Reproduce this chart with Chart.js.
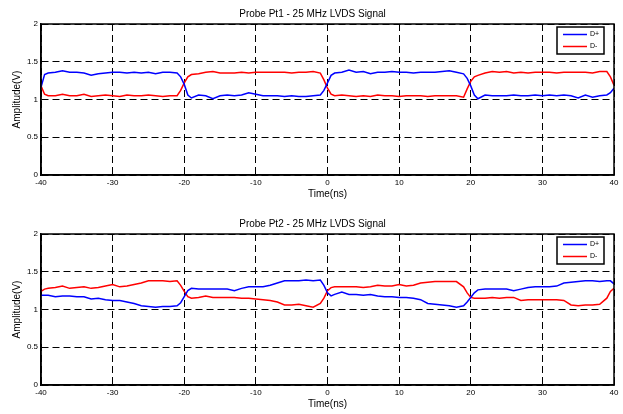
<!DOCTYPE html>
<html>
<head>
<meta charset="utf-8">
<script src="https://cdn.jsdelivr.net/npm/chart.js@4.4.0/dist/chart.umd.min.js"></script>
<style>
body { margin: 0; background: #fff; }
#wrap { position: relative; width: 623px; height: 414px; }
.pane { position: absolute; left: 0; width: 623px; height: 204px; }
</style>
</head>
<body>
<div id="wrap">
  <div class="pane" style="top:0px"><canvas id="pt1" width="623" height="204"></canvas></div>
  <div class="pane" style="top:210px"><canvas id="pt2" width="623" height="204"></canvas></div>
</div>
<script>
// sample times (ns), half steps around the edges
var timeNs = [
  -40, -39.5, -39, -38, -37, -36, -35, -34, -33, -32, -31, -30, -29, -28, -27, -26, -25, -24, -23, -22, -21,
  -20.5, -20, -19.5,
  -19, -18, -17, -16, -15, -14, -13, -12, -11, -10, -9, -8, -7, -6, -5, -4, -3, -2, -1,
  -0.5, 0, 0.5,
  1, 2, 3, 4, 5, 6, 7, 8, 9, 10, 11, 12, 13, 14, 15, 16, 17, 18, 19,
  19.5, 20, 20.5,
  21, 22, 23, 24, 25, 26, 27, 28, 29, 30, 31, 32, 33, 34, 35, 36, 37, 38, 39,
  39.5, 40
];

// probe Pt1 (V)
var pt1Plus = [
  1.16, 1.33, 1.35, 1.36, 1.38, 1.36, 1.36, 1.35, 1.32, 1.34, 1.35, 1.36, 1.36, 1.35, 1.36, 1.35, 1.36, 1.34, 1.36, 1.36, 1.35,
  1.30, 1.20, 1.06,
  1.02, 1.06, 1.05, 1.01, 1.05, 1.06, 1.05, 1.06, 1.09, 1.07, 1.05, 1.05, 1.05, 1.04, 1.05, 1.04, 1.04, 1.05, 1.06,
  1.12, 1.22, 1.32,
  1.35, 1.36, 1.39, 1.36, 1.37, 1.34, 1.36, 1.36, 1.37, 1.36, 1.36, 1.35, 1.36, 1.36, 1.36, 1.37, 1.38, 1.36, 1.34,
  1.28, 1.18, 1.06,
  1.01, 1.06, 1.05, 1.05, 1.05, 1.06, 1.05, 1.05, 1.06, 1.05, 1.06, 1.05, 1.06, 1.05, 1.02, 1.06, 1.03, 1.05, 1.06,
  1.09, 1.15
];
var pt1Minus = [
  1.18, 1.07, 1.05, 1.05, 1.07, 1.05, 1.05, 1.07, 1.04, 1.05, 1.06, 1.05, 1.04, 1.06, 1.05, 1.05, 1.06, 1.05, 1.04, 1.05, 1.05,
  1.12, 1.22, 1.30,
  1.33, 1.34, 1.36, 1.37, 1.35, 1.35, 1.35, 1.36, 1.35, 1.36, 1.36, 1.36, 1.36, 1.36, 1.35, 1.36, 1.36, 1.37, 1.35,
  1.26, 1.15, 1.07,
  1.05, 1.06, 1.05, 1.04, 1.05, 1.04, 1.06, 1.05, 1.05, 1.04, 1.05, 1.05, 1.05, 1.04, 1.05, 1.05, 1.05, 1.05, 1.03,
  1.14, 1.24, 1.30,
  1.32, 1.35, 1.37, 1.36, 1.37, 1.35, 1.36, 1.35, 1.36, 1.36, 1.36, 1.35, 1.36, 1.36, 1.36, 1.36, 1.35, 1.37, 1.37,
  1.30, 1.19
];

// probe Pt2 (V)
var pt2Plus = [
  1.19, 1.19, 1.19, 1.17, 1.18, 1.18, 1.17, 1.17, 1.14, 1.15, 1.13, 1.12, 1.12, 1.10, 1.08, 1.05, 1.04, 1.03, 1.04, 1.04, 1.05,
  1.09, 1.17, 1.25,
  1.28, 1.27, 1.27, 1.27, 1.27, 1.27, 1.25, 1.28, 1.30, 1.30, 1.30, 1.32, 1.35, 1.38, 1.38, 1.38, 1.39, 1.38, 1.39,
  1.32, 1.22, 1.18,
  1.20, 1.23, 1.20, 1.20, 1.19, 1.20, 1.18, 1.17, 1.17, 1.16, 1.16, 1.15, 1.13, 1.08, 1.07, 1.06, 1.05, 1.03, 1.05,
  1.10, 1.16, 1.22,
  1.26, 1.27, 1.27, 1.27, 1.27, 1.25, 1.27, 1.29, 1.30, 1.30, 1.30, 1.31, 1.35, 1.36, 1.37, 1.38, 1.38, 1.37, 1.38,
  1.38, 1.34
];
var pt2Minus = [
  1.24, 1.27, 1.28, 1.29, 1.31, 1.28, 1.29, 1.30, 1.28, 1.29, 1.31, 1.33, 1.30, 1.31, 1.33, 1.35, 1.38, 1.38, 1.38, 1.37, 1.38,
  1.32, 1.24, 1.17,
  1.15, 1.16, 1.18, 1.16, 1.16, 1.16, 1.16, 1.15, 1.15, 1.14, 1.13, 1.12, 1.10, 1.06, 1.06, 1.07, 1.05, 1.03, 1.08,
  1.15, 1.25, 1.29,
  1.30, 1.30, 1.30, 1.30, 1.29, 1.30, 1.32, 1.31, 1.31, 1.33, 1.31, 1.32, 1.35, 1.36, 1.37, 1.37, 1.37, 1.37, 1.30,
  1.22, 1.16, 1.15,
  1.15, 1.15, 1.16, 1.15, 1.16, 1.16, 1.12, 1.13, 1.13, 1.13, 1.13, 1.13, 1.12, 1.06, 1.05, 1.06, 1.06, 1.07, 1.15,
  1.24, 1.28
];

var FONT = '"Liberation Sans", Arial, sans-serif';

function toPoints(t, v)
{
  var pts = [];
  for (var i = 0; i < t.length; i++) {
    pts.push({x: t[i], y: v[i]});
  }
  return pts;
}

// matlab style frame round the plot, plus the small legend box in the corner
var frameAndLegend = {
  id: 'frameAndLegend',
  afterDatasetsDraw: function(chart) {
    var ctx = chart.ctx;
    var a = chart.chartArea;
    ctx.save();
    ctx.strokeStyle = '#000';
    ctx.lineWidth = 1.5;
    ctx.strokeRect(a.left, a.top, a.right - a.left, a.bottom - a.top);

    var w = 47, h = 27;
    var x = a.right - 10 - w, y = a.top + 3;
    ctx.fillStyle = '#fff';
    ctx.fillRect(x, y, w, h);
    ctx.strokeRect(x, y, w, h);
    ctx.font = '7px ' + FONT;
    ctx.textBaseline = 'middle';
    chart.data.datasets.forEach(function(ds, i) {
      var ly = y + 7.5 + i * 12;
      ctx.strokeStyle = ds.borderColor;
      ctx.lineWidth = 1.5;
      ctx.beginPath();
      ctx.moveTo(x + 6, ly);
      ctx.lineTo(x + 30, ly);
      ctx.stroke();
      ctx.fillStyle = '#000';
      ctx.fillText(ds.label, x + 33, ly);
    });
    ctx.restore();
  }
};

function buildProbe(id, title, plus, minus)
{
  return new Chart(document.getElementById(id), {
    type: 'line',
    data: {
      datasets: [
        { label: 'D+', data: toPoints(timeNs, plus), borderColor: '#0000ff', borderWidth: 1.5, pointRadius: 0, tension: 0 },
        { label: 'D-', data: toPoints(timeNs, minus), borderColor: '#ff0000', borderWidth: 1.5, pointRadius: 0, tension: 0 }
      ]
    },
    options: {
      responsive: false,
      animation: false,
      layout: { padding: { left: 11, right: 9, top: 0, bottom: 4 } },
      plugins: {
        legend: { display: false },
        tooltip: { enabled: false },
        title: {
          display: true,
          text: title,
          color: '#000',
          font: { family: FONT, size: 10, weight: 'normal' },
          padding: { top: 8, bottom: 4 }
        }
      },
      scales: {
        x: {
          type: 'linear',
          min: -40,
          max: 40,
          ticks: { stepSize: 10, color: '#000', padding: 3, font: { family: FONT, size: 8 } },
          grid: { color: '#000', lineWidth: 1, drawTicks: false },
          border: { color: '#000', width: 1.5, dash: [7, 4] },
          title: { display: true, text: 'Time(ns)', color: '#000', padding: 0, font: { family: FONT, size: 10 } },
          afterFit: function(scale) { scale.height = 25; }
        },
        y: {
          min: 0,
          max: 2,
          ticks: {
            stepSize: 0.5, color: '#000', padding: 3, font: { family: FONT, size: 8 },
            callback: function(v) { return String(v); }
          },
          grid: { color: '#000', lineWidth: 1, drawTicks: false },
          border: { color: '#000', width: 1.5, dash: [7, 4] },
          title: { display: true, text: 'Amplitude(V)', color: '#000', padding: 0, font: { family: FONT, size: 10 } },
          afterFit: function(scale) { scale.width = 30; }
        }
      }
    },
    plugins: [frameAndLegend]
  });
}

buildProbe('pt1', 'Probe Pt1 - 25 MHz LVDS Signal', pt1Plus, pt1Minus);
buildProbe('pt2', 'Probe Pt2 - 25 MHz LVDS Signal', pt2Plus, pt2Minus);
</script>
</body>
</html>
